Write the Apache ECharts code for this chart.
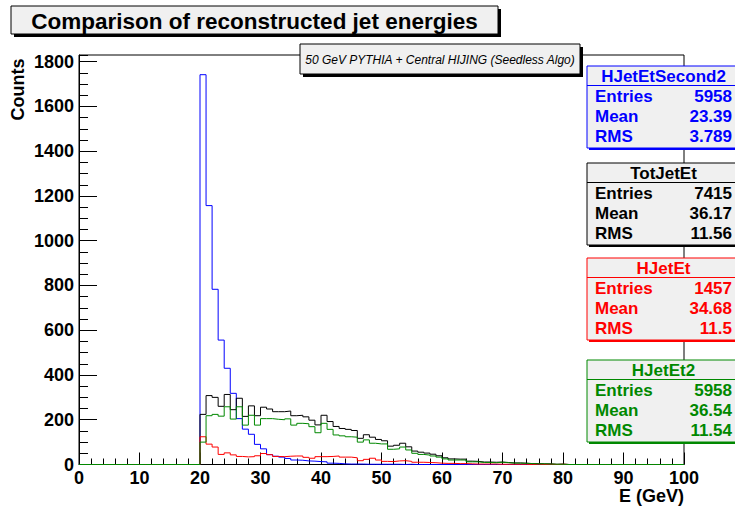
<!DOCTYPE html>
<html>
<head>
<meta charset="utf-8">
<script src="https://cdn.jsdelivr.net/npm/echarts@6/dist/echarts.min.js"></script>
<style>
html,body{margin:0;padding:0;background:#fff;}
#c{width:735px;height:510px;}
</style>
</head>
<body>
<div id="c"></div>
<script>
// ---- data (1 GeV bins, values listed from bin 20 to bin 80) ----
const firstBin = 20;
const nBins = 100;
const hJetEtSecond2 = [1742,1157,783,556,430,318,205,158,135,90,
  70,44,37,33,27,20,19,16,15,13,
  12,6,5,3,2,2,2,1,1,1,
  1,1,1,0,1,0,0,0,0,0,
  0,0,0,0,0,0,0,0,0,0,
  0,0,0,0,0,0,0,0,0,0,0];
const totJetEt = [224,308,300,260,313,245,296,215,262,218,
  256,248,236,236,239,218,220,213,198,177,
  220,192,170,161,157,152,117,133,122,112,
  106,82,86,95,79,60,55,51,46,39,
  30,25,24,24,15,14,11,11,10,11,
  9,7,7,6,4,4,3,3,1,2,0];
const hJetEt = [124,91,78,45,52,43,36,34,35,39,
  49,44,36,35,37,38,38,32,28,35,
  35,36,38,33,33,30,17,23,28,20,
  14,13,16,17,14,10,10,9,8,6,
  5,5,4,4,3,2,2,2,2,1,
  1,1,1,1,0,1,0,1,0,1,0];
const hJetEt2 = [100,218,224,216,258,203,258,176,220,176,
  205,205,202,200,204,176,184,182,169,142,
  184,157,132,128,124,122,100,110,95,92,
  92,68,70,78,65,50,45,42,38,33,
  25,20,20,20,12,12,9,9,8,10,
  8,6,6,5,4,3,3,2,1,1,0];

const histNames  = ['HJetEtSecond2','TotJetEt','HJetEt','HJetEt2'];
const histColors = ['#0000ff','#000000','#ff0000','#008800'];
const statEntries = ['5958','7415','1457','5958'];
const statMeans   = ['23.39','36.17','34.68','36.54'];
const statRms     = ['3.789','11.56','11.5','11.54'];

const xTicks = [0,10,20,30,40,50,60,70,80,90,100];
const yTicks = [0,200,400,600,800,1000,1200,1400,1600,1800];

const titleText = 'Comparison of reconstructed jet energies';
const noteText = '50 GeV PYTHIA + Central HIJING (Seedless Algo)';
const xTitle = 'E (GeV)';
const yTitle = 'Counts';

// ---- build ----
function histPoints(vals){
  const pts = [];
  for (let i = 0; i < nBins; i++) {
    const k = i - firstBin;
    const v = (k >= 0 && k < vals.length) ? vals[k] : 0;
    pts.push([i, v]);
  }
  pts.push([nBins, 0]);
  return pts;
}
const seriesVals = [hJetEtSecond2, totJetEt, hJetEt, hJetEt2];

const FONT = '"Liberation Sans", Arial, Helvetica, sans-serif';
const chart = echarts.init(document.getElementById('c'), null, {renderer:'svg'});

const G = {left:79, top:55, width:605, height:409.5};

const graphics = [];
// title box
graphics.push({type:'rect', shape:{x:14,y:9,width:487,height:28}, style:{fill:'#000'}, z:100});
graphics.push({type:'rect', shape:{x:11,y:6,width:487,height:28}, style:{fill:'#f0f0f0',stroke:'#000',lineWidth:1}, z:101});
graphics.push({type:'text', x:254.5, y:21, style:{text:titleText, font:'bold 22.5px '+FONT, fill:'#000', textAlign:'center', textVerticalAlign:'middle'}, z:102});
// note box
graphics.push({type:'rect', shape:{x:303,y:47,width:280,height:30}, style:{fill:'#000'}, z:100});
graphics.push({type:'rect', shape:{x:300,y:44,width:280,height:30}, style:{fill:'#f0f0f0',stroke:'#000',lineWidth:1}, z:101});
graphics.push({type:'text', x:440, y:59.5, style:{text:noteText, font:'italic 12px '+FONT, fill:'#000', textAlign:'center', textVerticalAlign:'middle'}, z:102});
// axis titles
graphics.push({type:'text', x:18, y:89.5, rotation:Math.PI/2, style:{text:yTitle, font:'bold 18px '+FONT, fill:'#000', textAlign:'center', textVerticalAlign:'middle'}, z:102});
graphics.push({type:'text', x:684, y:496, style:{text:xTitle, font:'bold 18px '+FONT, fill:'#000', textAlign:'right', textVerticalAlign:'middle'}, z:102});

// stat boxes
const boxTops = [66, 163, 258, 360];
const boxH = 82, headH = 19.5;
for (let b = 0; b < 4; b++) {
  const t = boxTops[b], c = histColors[b];
  graphics.push({type:'rect', shape:{x:589,y:t+2,width:160,height:boxH}, style:{fill:c}, z:100});
  graphics.push({type:'rect', shape:{x:587,y:t,width:160,height:boxH}, style:{fill:'#f0f0f0',stroke:c,lineWidth:1}, z:101});
  graphics.push({type:'line', shape:{x1:587,y1:t+headH,x2:740,y2:t+headH}, style:{stroke:c,lineWidth:1}, z:102});
  graphics.push({type:'text', x:663.5, y:t+headH/2+0.5, style:{text:histNames[b], font:'bold 17px '+FONT, fill:c, textAlign:'center', textVerticalAlign:'middle'}, z:103});
  const labels = ['Entries','Mean','RMS'];
  const vals = [statEntries[b], statMeans[b], statRms[b]];
  for (let r = 0; r < 3; r++) {
    const yy = t + headH + 11 + r*19.8;
    graphics.push({type:'text', x:595, y:yy, style:{text:labels[r], font:'bold 17px '+FONT, fill:c, textAlign:'left', textVerticalAlign:'middle'}, z:103});
    graphics.push({type:'text', x:732, y:yy, style:{text:vals[r], font:'bold 17px '+FONT, fill:c, textAlign:'right', textVerticalAlign:'middle'}, z:103});
  }
}

const labelStyle = {color:'#000', fontSize:18, fontWeight:'bold', fontFamily:FONT};

chart.setOption({
  animation:false,
  backgroundColor:'#fff',
  grid:{left:G.left, top:G.top, width:G.width, height:G.height, show:true, borderColor:'#000', borderWidth:1, backgroundColor:'#fff', containLabel:false},
  xAxis:{
    type:'value', min:xTicks[0], max:xTicks[xTicks.length-1], interval:xTicks[1]-xTicks[0],
    axisLine:{show:true, onZero:false, lineStyle:{color:'#000', width:1}},
    axisTick:{show:true, inside:true, length:12, lineStyle:{color:'#000', width:1}},
    minorTick:{show:true, splitNumber:5, length:6, lineStyle:{color:'#000', width:1}},
    axisLabel:Object.assign({margin:4}, labelStyle),
    splitLine:{show:false}, minorSplitLine:{show:false}
  },
  yAxis:[{
    type:'value', position:'left', min:yTicks[0], max:1830, interval:yTicks[1]-yTicks[0],
    axisLine:{show:true, onZero:false, lineStyle:{color:'#000', width:1}},
    axisTick:{show:true, inside:true, length:18, lineStyle:{color:'#000', width:1}},
    axisLabel:Object.assign({margin:5, showMaxLabel:false,
      formatter:function(v){ return yTicks.indexOf(v) >= 0 ? String(v) : ''; }}, labelStyle),
    splitLine:{show:false}
  },{
    type:'value', position:'left', min:yTicks[0], max:1830, interval:50,
    axisLine:{show:false},
    axisTick:{show:true, inside:true, length:9, lineStyle:{color:'#000', width:1}},
    axisLabel:{show:false},
    splitLine:{show:false}
  }],
  series: seriesVals.map(function(vals, i){
    return {
      type:'line', name:histNames[i], step:'end', data:histPoints(vals),
      yAxisIndex:0, symbol:'none', clip:true,
      lineStyle:{color:histColors[i], width:1}, itemStyle:{color:histColors[i]},
      z:2+i
    };
  }),
  graphic: graphics
});
</script>
</body>
</html>
